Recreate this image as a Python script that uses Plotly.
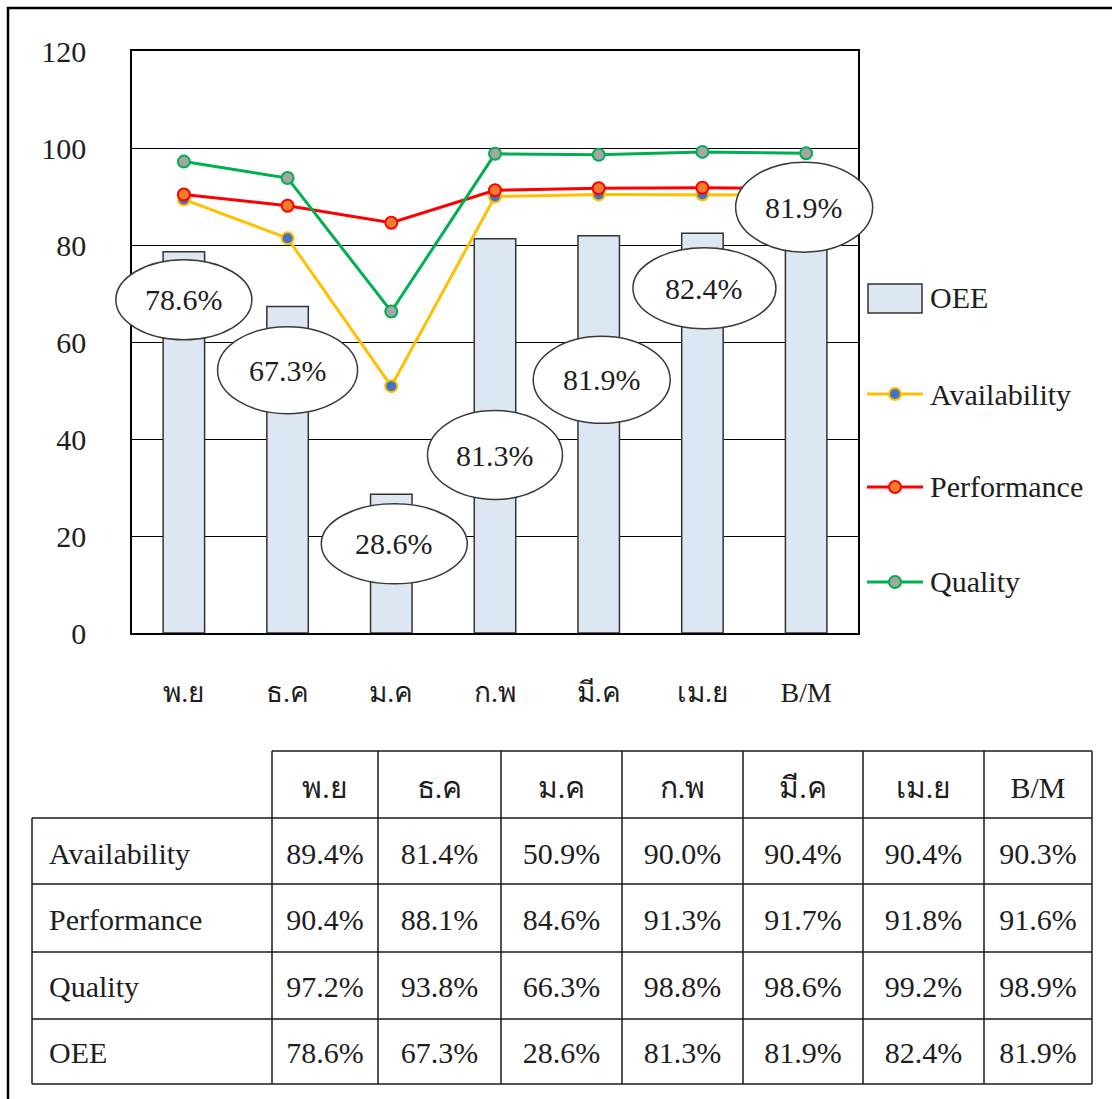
import plotly.graph_objects as go

# ---- data -------------------------------------------------------------
months = ["พ.ย", "ธ.ค", "ม.ค", "ก.พ", "มี.ค", "เม.ย", "B/M"]
availability = [89.4, 81.4, 50.9, 90.0, 90.4, 90.4, 90.3]
performance = [90.4, 88.1, 84.6, 91.3, 91.7, 91.8, 91.6]
quality = [97.2, 93.8, 66.3, 98.8, 98.6, 99.2, 98.9]
oee = [78.6, 67.3, 28.6, 81.3, 81.9, 82.4, 81.9]
y_ticks = [0, 20, 40, 60, 80, 100, 120]
row_names = ["Availability", "Performance", "Quality", "OEE"]

# OEE call-out bubbles: height on the value axis, pixel nudge and bubble size
callout_y = [68.7, 54.2, 18.4, 36.7, 52.2, 71.1, 87.8]
callout_dx = [0, 0, 3, 0, 3, 2, -2]
callout_w = [136, 140, 146, 135, 137, 143, 137]
callout_h = [80, 87, 80, 89, 87, 81, 90]

# ---- styling ----------------------------------------------------------
W, H = 1112, 1099
FONT = "Liberation Serif, Times New Roman, serif"
TXT = "#1e1e1e"
BAR_FILL = "#DDE7F3"
EDGE = "#333333"
GRID = "#1a1a1a"
series = [
    ("Availability", availability, "#FFC000", "#4472C4"),
    ("Performance", performance, "#FF0000", "#ED7D31"),
    ("Quality", quality, "#00B050", "#A5A5A5"),
]
Y_MAX = 120

# table geometry (pixels)
col_edges = [32, 272, 378, 501, 622, 743, 863, 984, 1092]
row_edges = [751, 818, 884, 952, 1019, 1084]
TEXT_DROP = 16   # pushes cell text down to the middle of each row
FIRST_INDENT = 9  # extra left indent of the row names


def fx(px):
    return px / W


def fy(py):
    return 1 - py / H


X_DOM = [fx(132), fx(858)]
Y_DOM = [fy(633), fy(51)]

fig = go.Figure()

fig.add_trace(go.Bar(
    x=months, y=oee, name="OEE", width=0.4,
    marker=dict(color=BAR_FILL, line=dict(color=EDGE, width=1.5)),
    showlegend=False,
))

for name, vals, line_c, mark_c in series:
    fig.add_trace(go.Scatter(
        x=months, y=vals, name=name, mode="lines+markers",
        line=dict(color=line_c, width=3),
        marker=dict(size=12, color=mark_c, line=dict(color=line_c, width=2)),
        showlegend=False,
    ))

# ---- data table under the chart ----------------------------------------
widths = [b - a for a, b in zip(col_edges[:-1], col_edges[1:])]
widths[0] -= FIRST_INDENT
body_cols = [row_names] + [
    [f"{v:.1f}%" for v in (a, p, q, o)]
    for a, p, q, o in zip(availability, performance, quality, oee)
]
table_font = dict(family=FONT, size=30, color=TXT)
no_line = dict(color="rgba(0,0,0,0)", width=0)
fig.add_trace(go.Table(
    domain=dict(x=[fx(col_edges[0] + FIRST_INDENT), fx(col_edges[-1])],
                y=[0, fy(row_edges[0] + TEXT_DROP)]),
    columnwidth=widths,
    header=dict(values=[""] + months, height=66, align="center",
                line=no_line, fill=dict(color="rgba(0,0,0,0)"), font=table_font),
    cells=dict(values=body_cols, height=66.5,
               align=["left"] + ["center"] * len(months),
               line=no_line, fill=dict(color="rgba(0,0,0,0)"), font=table_font),
))

shapes = []
grid_line = dict(color=GRID, width=1.5)
for k, y in enumerate(row_edges):
    x_start = col_edges[1] if k == 0 else col_edges[0]
    shapes.append(dict(type="line", xref="paper", yref="paper",
                       x0=fx(x_start), x1=fx(col_edges[-1]), y0=fy(y), y1=fy(y),
                       line=grid_line))
for k, x in enumerate(col_edges):
    y_start = row_edges[1] if k == 0 else row_edges[0]
    shapes.append(dict(type="line", xref="paper", yref="paper",
                       x0=fx(x), x1=fx(x), y0=fy(y_start), y1=fy(row_edges[-1]),
                       line=grid_line))

# ---- OEE value bubbles (may overhang the plot frame, so paper-referenced) --
annotations = []
n = len(months)
for i, v in enumerate(oee):
    dx, w, h = callout_dx[i], callout_w[i], callout_h[i]
    cx = X_DOM[0] + (i + 0.5) / n * (X_DOM[1] - X_DOM[0])
    cy = Y_DOM[0] + callout_y[i] / Y_MAX * (Y_DOM[1] - Y_DOM[0])
    shapes.append(dict(
        type="circle", xref="paper", yref="paper",
        xsizemode="pixel", ysizemode="pixel", xanchor=cx, yanchor=cy,
        x0=dx - w / 2, x1=dx + w / 2, y0=-h / 2, y1=h / 2,
        fillcolor="white", line=dict(color="#3a3a3a", width=1.5), layer="above",
    ))
    annotations.append(dict(
        x=i, y=callout_y[i], xref="x", yref="y", xshift=dx,
        text=f"{v}%", showarrow=False,
        font=dict(family=FONT, size=30, color=TXT),
    ))

# ---- legend at the right of the plot ------------------------------------
legend_rows = [("OEE", 298)] + [(s[0], y) for s, y in zip(series, [394, 487, 582])]
shapes.append(dict(
    type="rect", xref="paper", yref="paper",
    x0=fx(868), x1=fx(922), y0=fy(313), y1=fy(284),
    fillcolor=BAR_FILL, line=dict(color=EDGE, width=1.5),
))
for (name, vals, line_c, mark_c), (_, ly) in zip(series, legend_rows[1:]):
    shapes.append(dict(
        type="line", xref="paper", yref="paper",
        x0=fx(867), x1=fx(923), y0=fy(ly), y1=fy(ly),
        line=dict(color=line_c, width=3),
    ))
    shapes.append(dict(
        type="circle", xref="paper", yref="paper",
        x0=fx(889), x1=fx(901), y0=fy(ly + 6), y1=fy(ly - 6),
        fillcolor=mark_c, line=dict(color=line_c, width=2),
    ))
for name, ly in legend_rows:
    annotations.append(dict(
        x=fx(928), y=fy(ly), xref="paper", yref="paper",
        xanchor="left", yanchor="middle", text=name, showarrow=False,
        font=dict(family=FONT, size=30, color=TXT),
    ))

# outer frame around the whole figure
shapes.append(dict(
    type="rect", xref="paper", yref="paper",
    x0=fx(8), x1=fx(1130), y0=fy(1120), y1=fy(8),
    line=dict(color="black", width=2.5), layer="below",
))

fig.update_layout(
    width=W, height=H, autosize=False,
    margin=dict(l=0, r=0, t=0, b=0, pad=0, autoexpand=False),
    paper_bgcolor="white", plot_bgcolor="white",
    font=dict(family=FONT, size=28, color=TXT),
    shapes=shapes, annotations=annotations,
    xaxis=dict(
        domain=X_DOM, type="category", automargin=False,
        range=[-0.5, n - 0.5],
        showline=True, mirror=True, linecolor="black", linewidth=1.5,
        showgrid=False, ticks="", ticklabelstandoff=34,
        tickfont=dict(family=FONT, size=28, color=TXT),
    ),
    yaxis=dict(
        domain=Y_DOM, range=[0, Y_MAX], automargin=False,
        tickvals=y_ticks, ticktext=[str(t) for t in y_ticks],
        showline=True, mirror=True, linecolor="black", linewidth=1.5,
        showgrid=True, gridcolor="black", gridwidth=1.3,
        zeroline=False, ticks="", ticklabelstandoff=38,
        tickfont=dict(family=FONT, size=30, color=TXT),
    ),
)

fig.write_html("out.html")
